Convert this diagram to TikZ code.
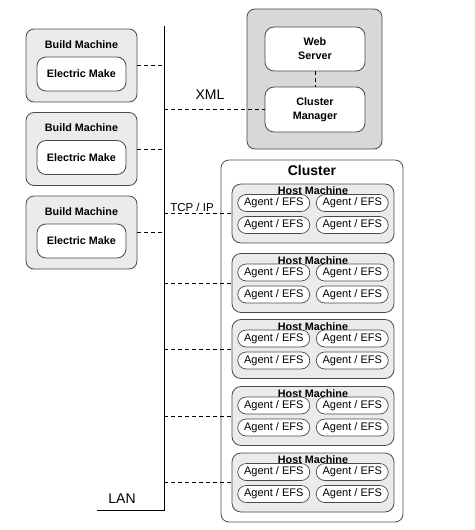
\documentclass[tikz,border=0pt]{standalone}
\usepackage{fontspec}
\setmainfont{Liberation Sans}
\definecolor{machinegray}{HTML}{EBEBEB}
\definecolor{servergray}{HTML}{D8D8D8}
\definecolor{edgegray}{HTML}{4A4A4A}
\tikzstyle{machine} = [rectangle, rounded corners=8pt, minimum width=111pt, minimum height=73pt, inner sep=0pt, draw=edgegray, fill=machinegray, line width=0.8pt]
\tikzstyle{serverbox} = [machine, minimum width=135pt, minimum height=140pt, fill=servergray]
\tikzstyle{clusterbox} = [machine, minimum width=182pt, minimum height=362pt, fill=white]
\tikzstyle{hostbox} = [machine, rounded corners=9pt, minimum width=162pt, minimum height=59pt]
\tikzstyle{makebox} = [rectangle, rounded corners=9pt, minimum width=89pt, minimum height=34pt, inner sep=0pt, align=center, draw=edgegray, fill=white, line width=0.8pt, font=\bfseries\fontsize{10.8}{14}\selectfont]
\tikzstyle{agentbox} = [rectangle, rounded corners=8.5pt, minimum width=72pt, minimum height=17pt, inner sep=0pt, draw=edgegray, fill=white, line width=0.7pt, font=\fontsize{11}{13}\selectfont]
\tikzstyle{heading} = [inner sep=0pt, font=\bfseries\fontsize{10.8}{13}\selectfont]
\tikzstyle{label} = [inner sep=0pt, font=\fontsize{14}{16}\selectfont]
\tikzstyle{link} = [line width=0.9pt, dash pattern=on 4pt off 3pt]
\tikzstyle{lanline} = [line width=0.9pt]

\begin{document}
\begin{tikzpicture}[x=1pt, y=-1pt, node distance=83.5pt]
\useasboundingbox (0,0) rectangle (474,530);

% Nodes
\node (bm1) [machine] at (81.5,65.5) {};
\node (bm2) [machine, below of=bm1] {};
\node (bm3) [machine, below of=bm2] {};
\node (bmt1) [heading] at ([yshift=-16pt]bm1.north) {Build Machine};
\node (bmt2) [heading] at ([yshift=-16pt]bm2.north) {Build Machine};
\node (bmt3) [heading] at ([yshift=-16pt]bm3.north) {Build Machine};
\node (em1) [makebox] at ([yshift=-8.5pt]bm1.center) {Electric Make};
\node (em2) [makebox] at ([yshift=-8.5pt]bm2.center) {Electric Make};
\node (em3) [makebox] at ([yshift=-8.5pt]bm3.center) {Electric Make};

\node (srv) [serverbox] at (314.5,79) {};
\node (web) [makebox, minimum width=100pt, minimum height=44pt] at (315,49) {Web\\Server};
\node (cm) [makebox, minimum width=100pt, minimum height=45pt] at (315,109.5) {Cluster\\Manager};

\node (cluster) [clusterbox] at (312,341) {};
\node (clt) [heading, font=\bfseries\fontsize{14}{16}\selectfont] at ([yshift=-10.5pt]cluster.north) {Cluster};

\foreach \i/\y in {1/213.5, 2/283, 3/349, 4/416, 5/482.5} {
  \node (host\i) [hostbox] at (313,\y) {};
  \node (hostt\i) [heading] at ([yshift=-7.5pt]host\i.north) {Host Machine};
  \node (agent\i a) [agentbox] at ([xshift=-39.25pt, yshift=10.5pt]host\i.center) {Agent / EFS};
  \node (agent\i b) [agentbox] at ([xshift=39.25pt, yshift=10.5pt]host\i.center) {Agent / EFS};
  \node (agent\i c) [agentbox] at ([xshift=-39.25pt, yshift=-11.5pt]host\i.center) {Agent / EFS};
  \node (agent\i d) [agentbox] at ([xshift=39.25pt, yshift=-11.5pt]host\i.center) {Agent / EFS};
}

\coordinate (lantop) at (164,26);
\coordinate (lanbot) at (164,510);
\coordinate (lanend) at (97,510);
\node (lan) [label] at (122,499) {LAN};
\node (xml) [label] at (210,95) {XML};
\node (tcp) [label, font=\fontsize{11.5}{13}\selectfont] at (192,207) {TCP / IP};

% Lines
\draw [lanline] (lantop) -- (lanbot) -- (lanend);
\draw [link] (bm1.east) -- (bm1.east -| lantop);
\draw [link] (bm2.east) -- (bm2.east -| lantop);
\draw [link] (bm3.east) -- (bm3.east -| lantop);
\draw [link] (cm.west -| lantop) -- (cm.west);
\draw [link] (web) -- (cm);
\foreach \i in {1,...,5}
  \draw [link] (host\i.west -| lantop) -- (host\i.west);

\end{tikzpicture}
\end{document}
